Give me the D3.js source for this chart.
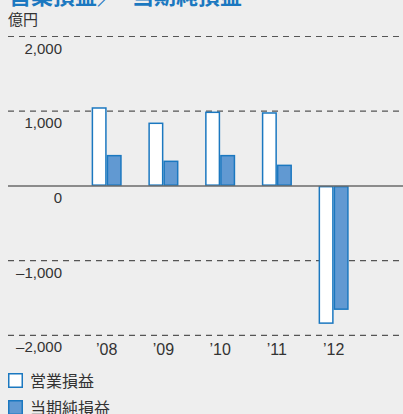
<!DOCTYPE html>
<html><head><meta charset="utf-8">
<script src="https://cdn.jsdelivr.net/npm/d3@7"></script>
<style>
html,body{margin:0;padding:0;background:#eeeeee;}
svg{display:block;font-family:"Liberation Sans","Noto Sans CJK JP",sans-serif;}
</style></head><body>
<script>
const categories = ["2008","2009","2010","2011","2012"];
const categoryLabels = ["’08","’09","’10","’11","’12"];
const seriesNames = ["営業損益","当期純損益"];
const operatingIncome = [1053, 848, 995, 986, -1847];
const netIncome = [415, 339, 415, 285, -1660];
const yTicks = [2000, 1000, 0, -1000, -2000];
const yTickLabels = ["2,000","1,000","0","–1,000","–2,000"];

const W = 403, H = 414;
const svg = d3.select("body").append("svg").attr("width", W).attr("height", H);
svg.append("rect").attr("width", W).attr("height", H).attr("fill", "#eeeeee");

const blue = "#1b78c0";
const netFill = "#6199d2";

// title (partially cut off at the top)
const title = svg.append("text").attr("y", 4).attr("fill", blue)
  .attr("font-family", "'Noto Sans CJK JP',sans-serif").attr("font-weight", "bold").attr("font-size", 22);
title.append("tspan").attr("x", 9).text("営業損益／");
title.append("tspan").attr("x", 132).text("当期純損益");

svg.append("text").attr("x", 8).attr("y", 25).attr("fill", "#333")
  .attr("font-family", "'Noto Sans CJK JP',sans-serif").attr("font-size", 15).text("億円");

const y = d3.scaleLinear().domain([-2000, 2000]).range([335.3, 36.5]);
const x = d3.scaleBand().domain(categories).range([78.3, 362]).paddingInner(0.47).paddingOuter(0.235);
const xs = d3.scaleBand().domain(seriesNames).range([0, x.bandwidth()]);

// gridlines
svg.append("g").selectAll("line").data(yTicks.filter(v => v !== 0)).join("line")
  .attr("x1", 8).attr("x2", W).attr("y1", d => y(d)).attr("y2", d => y(d))
  .attr("stroke", "#555").attr("stroke-width", 1.2).attr("stroke-dasharray", "6,5");

// y tick labels
svg.append("g").selectAll("text").data(yTicks).join("text")
  .attr("x", 62).attr("y", d => y(d) + 17).attr("text-anchor", "end")
  .attr("font-size", 15).attr("fill", "#333").text((d, i) => yTickLabels[i]);

// bars
const sw = 1.5;
const groups = svg.append("g").selectAll("g").data(categories).join("g")
  .attr("transform", d => `translate(${x(d)},0)`);
groups.append("rect")
  .attr("x", xs(seriesNames[0]) + sw/2).attr("width", xs.bandwidth() - sw)
  .attr("y", (d, i) => Math.min(y(operatingIncome[i]), y(0)) + sw/2)
  .attr("height", (d, i) => Math.abs(y(operatingIncome[i]) - y(0)) - sw)
  .attr("fill", "#ffffff").attr("stroke", blue).attr("stroke-width", sw);
groups.append("rect")
  .attr("x", xs(seriesNames[1]) + sw/2).attr("width", xs.bandwidth() - sw)
  .attr("y", (d, i) => Math.min(y(netIncome[i]), y(0)) + sw/2)
  .attr("height", (d, i) => Math.abs(y(netIncome[i]) - y(0)) - sw)
  .attr("fill", netFill).attr("stroke", blue).attr("stroke-width", sw);

// zero line
svg.append("line").attr("x1", 8).attr("x2", W).attr("y1", y(0)).attr("y2", y(0))
  .attr("stroke", "#6a6a6a").attr("stroke-width", 1.5);

// x labels
svg.append("g").selectAll("text").data(categories).join("text")
  .attr("x", d => x(d) + x.bandwidth()/2).attr("y", 355).attr("text-anchor", "middle")
  .attr("font-size", 16).attr("fill", "#333").text((d, i) => categoryLabels[i]);

// legend
const legend = svg.append("g").selectAll("g").data(seriesNames).join("g")
  .attr("transform", (d, i) => `translate(8,${373 + i * 27})`);
legend.append("rect").attr("x", 0.75).attr("y", 0.75).attr("width", 13.5).attr("height", 13.5)
  .attr("fill", (d, i) => i === 0 ? "#ffffff" : netFill).attr("stroke", blue).attr("stroke-width", sw);
legend.append("text").attr("x", 22).attr("y", 13.5)
  .attr("font-family", "'Noto Sans CJK JP',sans-serif").attr("font-size", 16).attr("fill", "#333").text(d => d);
</script>
</body></html>
